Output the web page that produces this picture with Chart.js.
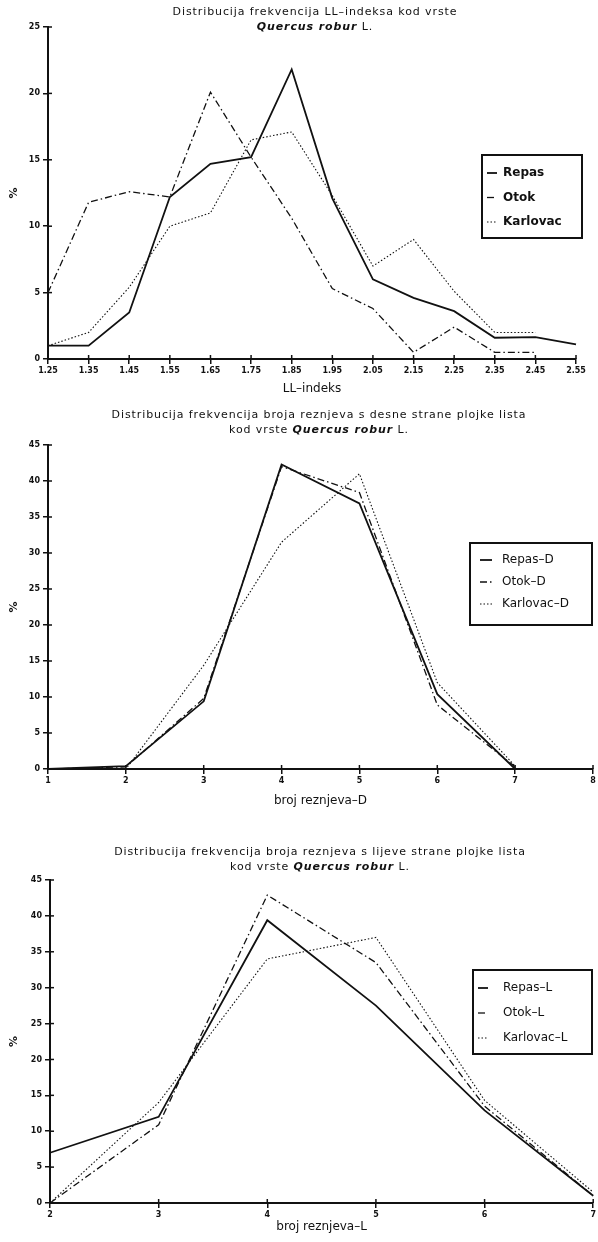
<!DOCTYPE html>
<html>
<head>
<meta charset="utf-8">
<script src="https://cdn.jsdelivr.net/npm/chart.js@4.4.1/dist/chart.umd.min.js"></script>
<style>
  body { margin: 0; background: #fff; width: 598px; height: 1242px; position: relative; overflow: hidden; font-family: 'DejaVu Sans', sans-serif; color: #111; }
  canvas { position: absolute; left: 0; }
  .title { position: absolute; width: 598px; text-align: center; font-size: 11px; letter-spacing: 0.9px; line-height: 15px; z-index: 2; }
  .title i { font-weight: bold; }
</style>
</head>
<body>
<div class="title" style="left:16px;top:4px">Distribucija frekvencija LL–indeksa kod vrste<br><i>Quercus robur</i> L.</div>
<canvas id="c1" width="598" height="400" style="top:0"></canvas>
<div class="title" style="left:20px;top:407px">Distribucija frekvencija broja reznjeva s desne strane plojke lista<br>kod vrste <i>Quercus robur</i> L.</div>
<canvas id="c2" width="598" height="412" style="top:400px"></canvas>
<div class="title" style="left:21px;top:844px">Distribucija frekvencija broja reznjeva s lijeve strane plojke lista<br>kod vrste <i>Quercus robur</i> L.</div>
<canvas id="c3" width="598" height="403" style="top:835px"></canvas>
<script>
// LL-indeks
const llLabels = ['1.25', '1.35', '1.45', '1.55', '1.65', '1.75', '1.85', '1.95', '2.05', '2.15', '2.25', '2.35', '2.45', '2.55'];
const llRepas = [1, 1, 3.5, 12.2, 14.7, 15.2, 21.8, 12.1, 6.0, 4.6, 3.6, 1.6, 1.65, 1.1];
const llOtok = [5, 11.8, 12.6, 12.2, 20.1, 15.2, 10.6, 5.3, 3.8, 0.5, 2.4, 0.5, 0.5, null];
const llKarlovac = [1, 2, 5.4, 10, 11, 16.5, 17.1, 12.3, 7, 9, 5.1, 2, 2, null];

// broj reznjeva - desna strana
const dLabels = ['1', '2', '3', '4', '5', '6', '7', '8'];
const dRepas = [0, 0.4, 9.4, 42.3, 36.9, 10.4, 0, null];
const dOtok = [0, 0.3, 9.8, 42.0, 38.4, 8.9, 0.3, null];
const dKarlovac = [0, 0, 14.4, 31.5, 41, 12, 0.4, null];

// broj reznjeva - lijeva strana
const lLabels = ['2', '3', '4', '5', '6', '7'];
const lRepas = [7, 12, 39.4, 27.5, 12.9, 1.0];
const lOtok = [0, 10.9, 42.9, 33.5, 13.5, 1.0];
const lKarlovac = [0, 14, 34, 37, 14.3, 1.5];

const INK = '#111';

const boxLegend = {
  id: 'boxLegend',
  afterDraw(chart, args, o) {
    const ctx = chart.ctx;
    ctx.save();
    ctx.strokeStyle = INK;
    ctx.lineWidth = 2;
    ctx.setLineDash([]);
    ctx.strokeRect(o.left, o.top, o.width, o.height);
    ctx.font = o.font;
    ctx.textBaseline = 'middle';
    ctx.fillStyle = INK;
    chart.data.datasets.forEach((ds, i) => {
      const y = o.top + o.first + i * o.gap;
      ctx.setLineDash(ds.borderDash || []);
      ctx.lineWidth = ds.borderWidth;
      ctx.beginPath();
      ctx.moveTo(o.left + o.s0, y);
      ctx.lineTo(o.left + o.s1, y);
      ctx.stroke();
      ctx.setLineDash([]);
      ctx.fillText(ds.label, o.left + o.tx, y);
    });
    ctx.restore();
  }
};

const innerTicks = {
  id: 'innerTicks',
  afterDraw(chart) {
    const ctx = chart.ctx, a = chart.chartArea;
    ctx.save();
    ctx.strokeStyle = INK;
    ctx.lineWidth = 1.5;
    const xs = chart.scales.x, ys = chart.scales.y;
    xs.ticks.forEach((t, i) => {
      const px = xs.getPixelForTick(i);
      ctx.beginPath(); ctx.moveTo(px, a.bottom); ctx.lineTo(px, a.bottom - 4); ctx.stroke();
    });
    ys.ticks.forEach((t, i) => {
      const py = ys.getPixelForTick(i);
      ctx.beginPath(); ctx.moveTo(a.left, py); ctx.lineTo(a.left + 4, py); ctx.stroke();
    });
    ctx.restore();
  }
};

function makeChart(id, labels, series, names, yMax, xTitle, pad, axisW, axisH, legend) {
  const styles = [
    { borderWidth: 1.8, borderDash: [] },
    { borderWidth: 1.3, borderDash: [7, 3, 1.5, 3] },
    { borderWidth: 1.1, borderDash: [1.5, 2] },
  ];
  new Chart(document.getElementById(id), {
    type: 'line',
    data: {
      labels,
      datasets: series.map((d, i) => ({
        label: names[i],
        data: d,
        borderColor: INK,
        borderWidth: styles[i].borderWidth,
        borderDash: styles[i].borderDash,
        pointRadius: 0,
        tension: 0,
        fill: false,
        spanGaps: false,
      })),
    },
    options: {
      responsive: false, animation: false,
      layout: { padding: pad },
      plugins: { legend: { display: false }, tooltip: { enabled: false }, boxLegend: legend },
      scales: {
        x: {
          offset: false,
          border: { color: INK, width: 2 },
          grid: { drawOnChartArea: false, color: INK, lineWidth: 1.5, tickLength: 5 },
          ticks: { color: INK, font: { family: 'DejaVu Sans', size: 8, weight: 'bold' }, padding: 2, maxRotation: 0, autoSkip: false },
          title: { display: true, text: xTitle, color: INK, font: { family: 'DejaVu Sans', size: 12 }, padding: { top: 0, bottom: 4 } },
          afterFit: s => { s.height = axisH; },
        },
        y: {
          min: 0, max: yMax,
          border: { color: INK, width: 2 },
          grid: { drawOnChartArea: false, color: INK, lineWidth: 1.5, tickLength: 5 },
          ticks: { stepSize: 5, color: INK, font: { family: 'DejaVu Sans', size: 8, weight: 'bold' }, padding: 3 },
          title: { display: true, text: '%', color: INK, font: { family: 'DejaVu Sans', size: 11, weight: 'bold' }, padding: { top: 8, bottom: 0 } },
          afterFit: s => { s.width = axisW; },
        },
      },
    },
    plugins: [boxLegend, innerTicks],
  });
}

makeChart('c1', llLabels, [llRepas, llOtok, llKarlovac], ['Repas', 'Otok', 'Karlovac'], 25, 'LL–indeks',
  { top: 27, right: 22, bottom: 0, left: 0 }, 48, 41,
  { left: 482, top: 155, width: 100, height: 83, first: 18, gap: 24.5, s0: 5, s1: 15, tx: 21, font: 'bold 12px "DejaVu Sans"' });

makeChart('c2', dLabels, [dRepas, dOtok, dKarlovac], ['Repas–D', 'Otok–D', 'Karlovac–D'], 45, 'broj reznjeva–D',
  { top: 45, right: 5, bottom: 0, left: 0 }, 48, 43,
  { left: 470, top: 143, width: 122, height: 82, first: 17, gap: 22, s0: 10, s1: 22, tx: 32, font: '12px "DejaVu Sans"' });

makeChart('c3', lLabels, [lRepas, lOtok, lKarlovac], ['Repas–L', 'Otok–L', 'Karlovac–L'], 45, 'broj reznjeva–L',
  { top: 45, right: 1, bottom: 0, left: 0 }, 50, 35,
  { left: 473, top: 135, width: 119, height: 84, first: 18, gap: 25, s0: 5, s1: 15, tx: 30, font: '12px "DejaVu Sans"' });
</script>
</body>
</html>
